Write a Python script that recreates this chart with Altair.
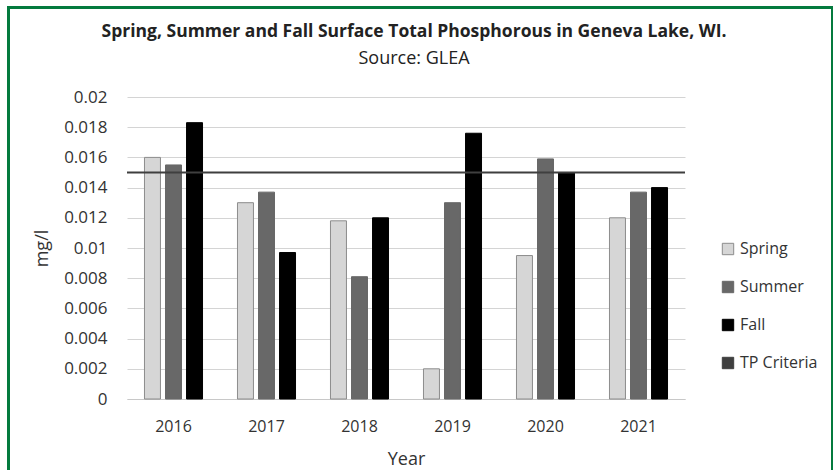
import altair as alt
import pandas as pd

years = ["2016", "2017", "2018", "2019", "2020", "2021"]
spring = [0.0160, 0.0130, 0.0118, 0.0020, 0.0095, 0.0120]
summer = [0.0155, 0.0137, 0.0081, 0.0130, 0.0159, 0.0137]
fall = [0.0183, 0.0097, 0.0120, 0.0176, 0.0150, 0.0140]
tp_criteria = [0.015]
seasons = ["Spring", "Summer", "Fall", "TP Criteria"]
fill_colors = ["#d6d6d6", "#686868", "#000000", "#3f3f3f"]
stroke_colors = ["#8c8c8c", "#686868", "#000000", "#3f3f3f"]
y_ticks = [0, 0.002, 0.004, 0.006, 0.008, 0.01, 0.012, 0.014, 0.016, 0.018, 0.02]

FONT = "Open Sans"
TEXT = "#333333"

rows = []
for name, vals in (("Spring", spring), ("Summer", summer), ("Fall", fall)):
    for yr, v in zip(years, vals):
        rows.append({"Year": yr, "Season": name, "Value": v})
df = pd.DataFrame(rows)
crit = pd.DataFrame({"Season": ["TP Criteria"], "Value": tp_criteria})

fill_scale = alt.Scale(domain=seasons, range=fill_colors)
stroke_scale = alt.Scale(domain=seasons, range=stroke_colors)

bars = alt.Chart(df).mark_bar(strokeWidth=1).encode(
    x=alt.X("Year:N", sort=years, scale=alt.Scale(paddingInner=0.376, paddingOuter=0.188),
            axis=alt.Axis(title="Year", labelAngle=0, ticks=False, domain=True,
                          domainColor="#c8c8c8", labelPadding=19, titlePadding=16,
                          labelFontSize=16, titleFontSize=18, titleFontWeight="normal",
                          labelColor=TEXT, titleColor=TEXT, grid=False)),
    xOffset=alt.XOffset("Season:N", sort=seasons[:3],
                        scale=alt.Scale(paddingInner=0.24, paddingOuter=0)),
    y=alt.Y("Value:Q", scale=alt.Scale(domain=[0, 0.02], nice=False),
            axis=alt.Axis(title="mg/l", values=y_ticks, format="~g", ticks=False,
                          domain=False, labelPadding=20, titlePadding=12,
                          labelOverlap=False, tickCount=11,
                          labelFontSize=17, titleFontSize=18, titleFontWeight="normal",
                          labelColor=TEXT, titleColor=TEXT,
                          gridColor="#d4d4d4", gridWidth=1)),
    fill=alt.Fill("Season:N", scale=fill_scale,
                  legend=alt.Legend(title=None, orient="none", legendX=593, legendY=144,
                                    symbolType="square", symbolSize=130,
                                    labelFontSize=16, labelColor=TEXT,
                                    rowPadding=22, symbolStrokeWidth=1,
                                    labelOffset=4)),
    stroke=alt.Stroke("Season:N", scale=stroke_scale, legend=None),
)

rule = alt.Chart(crit).mark_rule(strokeWidth=2).encode(
    y="Value:Q",
    stroke=alt.Stroke("Season:N", scale=stroke_scale, legend=None),
)

border = alt.Chart(crit).mark_rule(color="#047a3e", strokeWidth=3).encode(
    x=alt.value(-118.5), y=alt.value(-91), y2=alt.value(380))
border_top = alt.Chart(crit).mark_rule(color="#047a3e", strokeWidth=3).encode(
    x=alt.value(-120), x2=alt.value(710), y=alt.value(-89.5))
border_right = alt.Chart(crit).mark_rule(color="#047a3e", strokeWidth=2).encode(
    x=alt.value(705), y=alt.value(-91), y2=alt.value(380))

chart = alt.layer(bars, rule, border, border_top, border_right).properties(
    width=558, height=302,
    autosize=alt.AutoSizeParams(type="none"),
    padding={"left": 127, "top": 97, "right": 148, "bottom": 71},
    title=alt.TitleParams(
        text="Spring, Summer and Fall Surface Total Phosphorous in Geneva Lake, WI.",
        subtitle="Source: GLEA",
        fontSize=17.5, fontWeight="bold", font=FONT, color="#222222",
        subtitleFontSize=18, subtitleFont=FONT, subtitleColor="#222222",
        subtitlePadding=9, anchor="middle", offset=22, dx=8, dy=85,
    ),
).configure(font=FONT, background="white").configure_view(stroke=None)

chart.save("out.html", embed_options={"renderer": "svg", "actions": False})
